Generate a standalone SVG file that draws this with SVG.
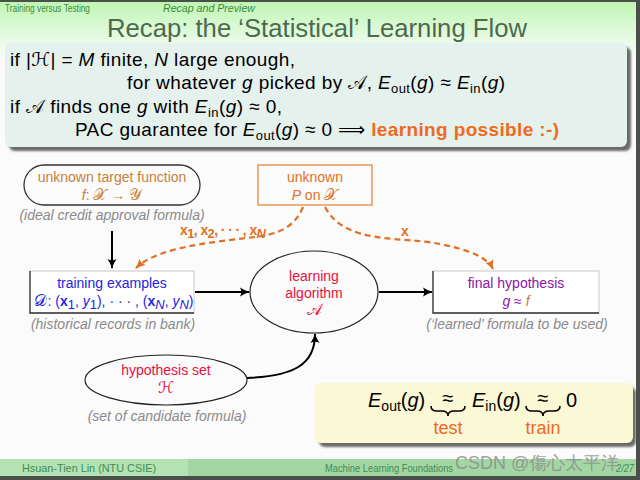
<svg xmlns="http://www.w3.org/2000/svg" width="640" height="480" viewBox="0 0 640 480">
<defs>
<linearGradient id="hdr" x1="0" y1="0" x2="0" y2="1">
<stop offset="0" stop-color="#bdf6b0"/>
<stop offset="0.75" stop-color="#eefbec"/>
<stop offset="1" stop-color="#fbfbfb"/>
</linearGradient>
<filter id="sh" x="-5%" y="-10%" width="115%" height="130%">
<feGaussianBlur stdDeviation="1.2"/>
</filter>
<marker id="ab" viewBox="0 0 10 10" refX="9" refY="5" markerWidth="10" markerHeight="10" markerUnits="userSpaceOnUse" orient="auto">
<path d="M0,0.5 Q5,4 10,5 Q5,6 0,9.5 Q2.5,5 0,0.5z" fill="#000"/>
</marker>
<marker id="ao" viewBox="0 0 10 10" refX="9" refY="5" markerWidth="10" markerHeight="10" markerUnits="userSpaceOnUse" orient="auto">
<path d="M0,0.5 Q5,4 10,5 Q5,6 0,9.5 Q2.5,5 0,0.5z" fill="#e07024"/>
</marker>
</defs>
<style>
text{font-family:"Liberation Sans",Arial,"DejaVu Sans",sans-serif}
.i{font-style:italic}
.b{font-weight:bold}
.t{font-size:19px;fill:#000}
.d{font-size:14px}
.cap{font-size:14px;font-style:italic;fill:#8a8a8a}
.or{fill:#c8803c}
.og{fill:#e2701e}
.bl{fill:#2323e6}
.rd{fill:#e8103c}
.pu{fill:#8c14a8}
.sub{font-size:13px}
.scr{font-size:16px}
.conn{fill:none;stroke:#000;stroke-width:2}
.dash{fill:none;stroke:#e07024;stroke-width:2.2;stroke-dasharray:6 4}
.ft{font-size:11px;fill:#3e8c52}
</style>
<rect x="0" y="0" width="640" height="480" fill="#fbfbfb"/>
<rect x="0" y="0" width="640" height="60" fill="url(#hdr)"/>
<text x="5" y="12" font-size="10" fill="#3a8a3a" textLength="85" lengthAdjust="spacingAndGlyphs">Training versus Testing</text>
<text x="163" y="12" font-size="10" fill="#3a8a3a" class="i" textLength="92" lengthAdjust="spacingAndGlyphs">Recap and Preview</text>
<text x="107" y="37" font-size="25.5" fill="#4d6a4e" textLength="420" lengthAdjust="spacingAndGlyphs">Recap: the ‘Statistical’ Learning Flow</text>

<g id="recap-box">
<rect x="9" y="47" width="622" height="104" rx="6" fill="#6a6a6a" filter="url(#sh)"/>
<rect x="5" y="43" width="622" height="104" rx="6" fill="#e4f1ed"/>
<text x="10" y="66" class="t" textLength="285" lengthAdjust="spacing">if |ℋ| = <tspan class="i">M</tspan> finite, <tspan class="i">N</tspan> large enough,</text>
<text x="127" y="89" class="t" textLength="378" lengthAdjust="spacing">for whatever <tspan class="i">g</tspan> picked by 𝒜, <tspan class="i">E</tspan><tspan class="sub" dy="4">out</tspan><tspan dy="-4">(</tspan><tspan class="i">g</tspan>) ≈ <tspan class="i">E</tspan><tspan class="sub" dy="4">in</tspan><tspan dy="-4">(</tspan><tspan class="i">g</tspan>)</text>
<text x="10" y="113" class="t" textLength="272" lengthAdjust="spacing">if 𝒜 finds one <tspan class="i">g</tspan> with <tspan class="i">E</tspan><tspan class="sub" dy="4">in</tspan><tspan dy="-4">(</tspan><tspan class="i">g</tspan>) ≈ 0,</text>
<text x="75" y="136" class="t" textLength="484" lengthAdjust="spacing">PAC guarantee for <tspan class="i">E</tspan><tspan class="sub" dy="4">out</tspan><tspan dy="-4">(</tspan><tspan class="i">g</tspan>) ≈ 0 ⟹ <tspan class="b" fill="#f06a1e">learning possible :-)</tspan></text>
</g>

<g id="connectors">
<path class="conn" d="M112,231 V268" marker-end="url(#ab)"/>
<path class="conn" d="M195,292 H249" marker-end="url(#ab)"/>
<path class="conn" d="M379,292 H432" marker-end="url(#ab)"/>
<path class="conn" d="M247,378 C295,376 315,364 315,334" marker-end="url(#ab)"/>
<path class="dash" d="M303,207 C296,224 284,232 262,236 C220,242 160,245 136,268" marker-end="url(#ao)"/>
<path class="dash" d="M325,207 C345,245 400,236 440,244 C470,250 488,258 493,269" marker-end="url(#ao)"/>
<text x="180" y="235" class="d b og" textLength="86" lengthAdjust="spacing">x<tspan class="sub" dy="3">1</tspan><tspan dy="-3">, x</tspan><tspan class="sub" dy="3">2</tspan><tspan dy="-3">, · · · , x</tspan><tspan class="sub i" dy="3">N</tspan></text>
<text x="401" y="236" class="d b og">x</text>
</g>

<g id="target">
<rect x="24" y="165" width="176" height="40" rx="20" fill="#fbfbfb" stroke="#333" stroke-width="1.3"/>
<text x="112" y="182" class="d or" text-anchor="middle">unknown target function</text>
<text x="112" y="200" class="d or" text-anchor="middle"><tspan class="i">f</tspan>: <tspan class="scr">𝒳</tspan> → <tspan class="scr">𝒴</tspan></text>
<text x="112" y="220" class="cap" text-anchor="middle">(ideal credit approval formula)</text>
</g>

<g id="distribution">
<rect x="258" y="165" width="114" height="40" fill="#fbfbfb" stroke="#e08a40" stroke-width="1.3"/>
<text x="315" y="182" class="d og" text-anchor="middle">unknown</text>
<text x="315" y="200" class="d og" text-anchor="middle"><tspan class="i">P</tspan> on <tspan class="scr">𝒳</tspan></text>
</g>

<g id="training">
<rect x="30" y="271" width="164" height="42" fill="#fff" stroke="#c8c8c8" stroke-width="1"/>
<path d="M30,271 V313 H194" fill="none" stroke="#333" stroke-width="1.3"/>
<text x="112" y="288" class="d bl" text-anchor="middle">training examples</text>
<text x="114" y="306" class="d bl" text-anchor="middle"><tspan class="scr">𝒟</tspan>: (<tspan class="b">x</tspan><tspan class="sub" dy="3">1</tspan><tspan dy="-3">, </tspan><tspan class="i">y</tspan><tspan class="sub" dy="3">1</tspan><tspan dy="-3">), · · · , (</tspan><tspan class="b">x</tspan><tspan class="sub i" dy="3">N</tspan><tspan dy="-3">, </tspan><tspan class="i">y</tspan><tspan class="sub i" dy="3">N</tspan><tspan dy="-3">)</tspan></text>
<text x="113" y="329" class="cap" text-anchor="middle">(historical records in bank)</text>
</g>

<g id="algorithm">
<ellipse cx="314" cy="292" rx="64" ry="41" fill="#fbfbfb" stroke="#222" stroke-width="1.2"/>
<text x="314" y="281" class="d rd" text-anchor="middle">learning</text>
<text x="314" y="298" class="d rd" text-anchor="middle">algorithm</text>
<text x="314" y="315" class="rd scr" text-anchor="middle">𝒜</text>
</g>

<g id="final">
<rect x="433" y="271" width="166" height="42" fill="#fff" stroke="#c8c8c8" stroke-width="1"/>
<path d="M433,271 V313 H599" fill="none" stroke="#333" stroke-width="1.3"/>
<text x="516" y="288" class="d pu" text-anchor="middle">final hypothesis</text>
<text x="516" y="306" class="d pu" text-anchor="middle"><tspan class="i">g</tspan> ≈ <tspan class="i or">f</tspan></text>
<text x="517" y="329" class="cap" text-anchor="middle">(‘learned’ formula to be used)</text>
</g>

<g id="hypothesis">
<ellipse cx="166" cy="380" rx="81" ry="25" fill="#fbfbfb" stroke="#222" stroke-width="1.2"/>
<text x="166" y="375" class="d rd" text-anchor="middle">hypothesis set</text>
<text x="166" y="393" class="rd scr" text-anchor="middle">ℋ</text>
<text x="167" y="421" class="cap" text-anchor="middle">(set of candidate formula)</text>
</g>

<g id="summary">
<rect x="319" y="387" width="317" height="60" rx="6" fill="#6a6a6a" filter="url(#sh)"/>
<rect x="315" y="383" width="318" height="60" rx="6" fill="#fbf8d6"/>
<text x="368" y="407" font-size="20"><tspan class="i">E</tspan><tspan font-size="14" dy="4">out</tspan><tspan dy="-4">(</tspan><tspan class="i">g</tspan>)</text>
<text x="448" y="405" font-size="20" text-anchor="middle">≈</text>
<text x="472" y="407" font-size="20"><tspan class="i">E</tspan><tspan font-size="14" dy="4">in</tspan><tspan dy="-4">(</tspan><tspan class="i">g</tspan>)</text>
<text x="543" y="405" font-size="20" text-anchor="middle">≈</text>
<text x="566" y="407" font-size="20">0</text>
<path d="M431,406 q0,5 6,5 h5 q6,0 6,5 q0,-5 6,-5 h5 q6,0 6,-5" fill="none" stroke="#000" stroke-width="1.6"/>
<path d="M526,406 q0,5 6,5 h5 q6,0 6,5 q0,-5 6,-5 h5 q6,0 6,-5" fill="none" stroke="#000" stroke-width="1.6"/>
<text x="448" y="434" font-size="18" fill="#f06a1e" text-anchor="middle">test</text>
<text x="543" y="434" font-size="18" fill="#f06a1e" text-anchor="middle">train</text>
</g>

<rect x="0" y="459" width="188" height="18" fill="#b3e3b3"/>
<rect x="188" y="459" width="450" height="18" fill="#a4d6a4"/>
<text x="22" y="472" class="ft" textLength="134" lengthAdjust="spacingAndGlyphs">Hsuan-Tien Lin (NTU CSIE)</text>
<text x="325" y="472" class="ft" textLength="128" lengthAdjust="spacingAndGlyphs">Machine Learning Foundations</text>
<text x="616" y="472" class="ft i" textLength="18" lengthAdjust="spacingAndGlyphs">2/27</text>
<text x="455" y="469" font-size="18" fill="#8a8a8a" fill-opacity="0.8" font-family="'Liberation Sans','Noto Sans CJK TC',sans-serif">CSDN @傷心太平洋</text>

<rect x="0" y="0" width="640" height="2" fill="#4a4f4a"/>
<rect x="636" y="0" width="4" height="480" fill="#4a4f4a"/>
<rect x="0" y="476" width="640" height="4" fill="#4a4f4a"/>
</svg>
